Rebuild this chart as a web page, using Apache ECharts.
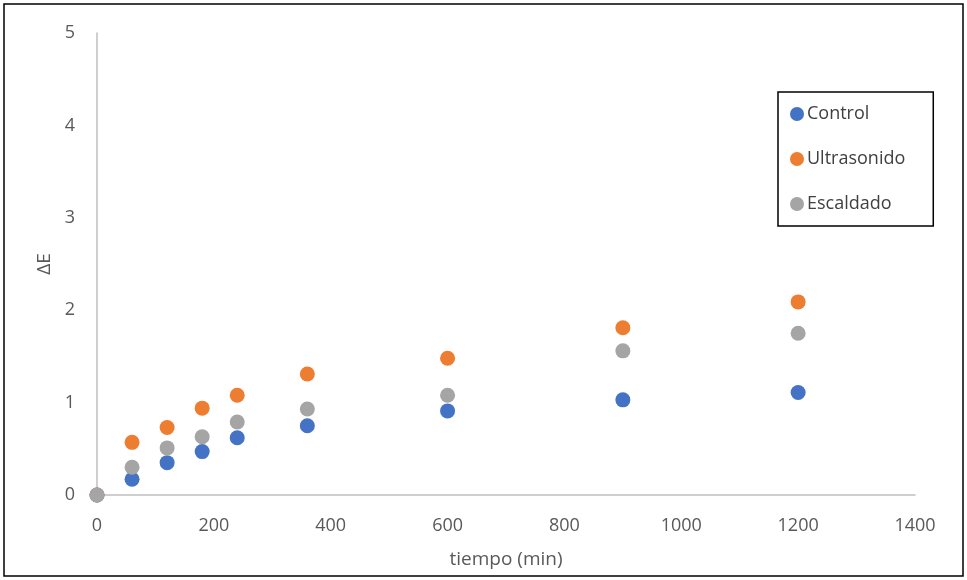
<!DOCTYPE html>
<html>
<head>
<meta charset="utf-8">
<script src="https://cdn.jsdelivr.net/npm/echarts@6/dist/echarts.min.js"></script>
<style>
html,body{margin:0;padding:0;background:#fff;}
#main{width:967px;height:580px;}
</style>
</head>
<body>
<div id="main"></div>
<script>
const times = [0, 60, 120, 180, 240, 360, 600, 900, 1200];
const control = [0, 0.17, 0.35, 0.47, 0.62, 0.75, 0.91, 1.03, 1.11];
const ultrasonido = [0, 0.57, 0.73, 0.94, 1.08, 1.31, 1.48, 1.81, 2.09];
const escaldado = [0, 0.30, 0.51, 0.63, 0.79, 0.93, 1.08, 1.56, 1.75];
const seriesNames = ['Control', 'Ultrasonido', 'Escaldado'];
const seriesColors = ['#4472c4', '#ed7d31', '#a5a5a5'];
const xTitle = 'tiempo (min)';
const yTitle = 'ΔE';

const pair = (arr) => times.map((t, i) => [t, arr[i]]);
const values = [control, ultrasonido, escaldado];

const chart = echarts.init(document.getElementById('main'));
const font = '"Open Sans", "DejaVu Sans", sans-serif';
chart.setOption({
  animation: false,
  backgroundColor: '#fff',
  textStyle: { fontFamily: font },
  grid: { left: 97, right: 52, top: 33, bottom: 85 },
  graphic: [{
    type: 'rect',
    shape: { x: 4, y: 4, width: 959, height: 572 },
    style: { fill: 'none', stroke: '#000', lineWidth: 1.5 },
    silent: true
  }],
  legend: {
    orient: 'vertical',
    left: 778,
    top: 92,
    padding: [13, 28, 13, 12],
    itemWidth: 14,
    itemHeight: 14,
    itemGap: 27,
    icon: 'circle',
    borderColor: '#000',
    borderWidth: 1.5,
    textStyle: { color: '#404040', fontSize: 18, fontFamily: font, padding: [0, 0, 0, -2] },
    data: seriesNames
  },
  xAxis: {
    type: 'value',
    min: 0, max: 1400, interval: 200,
    name: xTitle,
    nameLocation: 'middle',
    nameGap: 55,
    nameTextStyle: { color: '#595959', fontSize: 19, fontFamily: font },
    axisLine: { show: true, onZero: false, lineStyle: { color: '#bfbfbf', width: 1.5 } },
    axisTick: { show: false },
    splitLine: { show: false },
    axisLabel: { color: '#595959', fontSize: 18, margin: 22, fontFamily: font, formatter: (v) => String(v) }
  },
  yAxis: {
    type: 'value',
    min: 0, max: 5, interval: 1,
    name: yTitle,
    nameLocation: 'middle',
    nameGap: 42,
    nameRotate: 90,
    nameTextStyle: { color: '#595959', fontSize: 19, fontFamily: font },
    axisLine: { show: true, lineStyle: { color: '#bfbfbf', width: 1.5 } },
    axisTick: { show: false },
    splitLine: { show: false },
    axisLabel: { color: '#595959', fontSize: 18, margin: 22, fontFamily: font }
  },
  series: seriesNames.map((n, i) => ({
    name: n,
    type: 'scatter',
    symbol: 'circle',
    symbolSize: 15,
    itemStyle: { color: seriesColors[i], opacity: 1 },
    data: pair(values[i])
  }))
});
</script>
</body>
</html>
